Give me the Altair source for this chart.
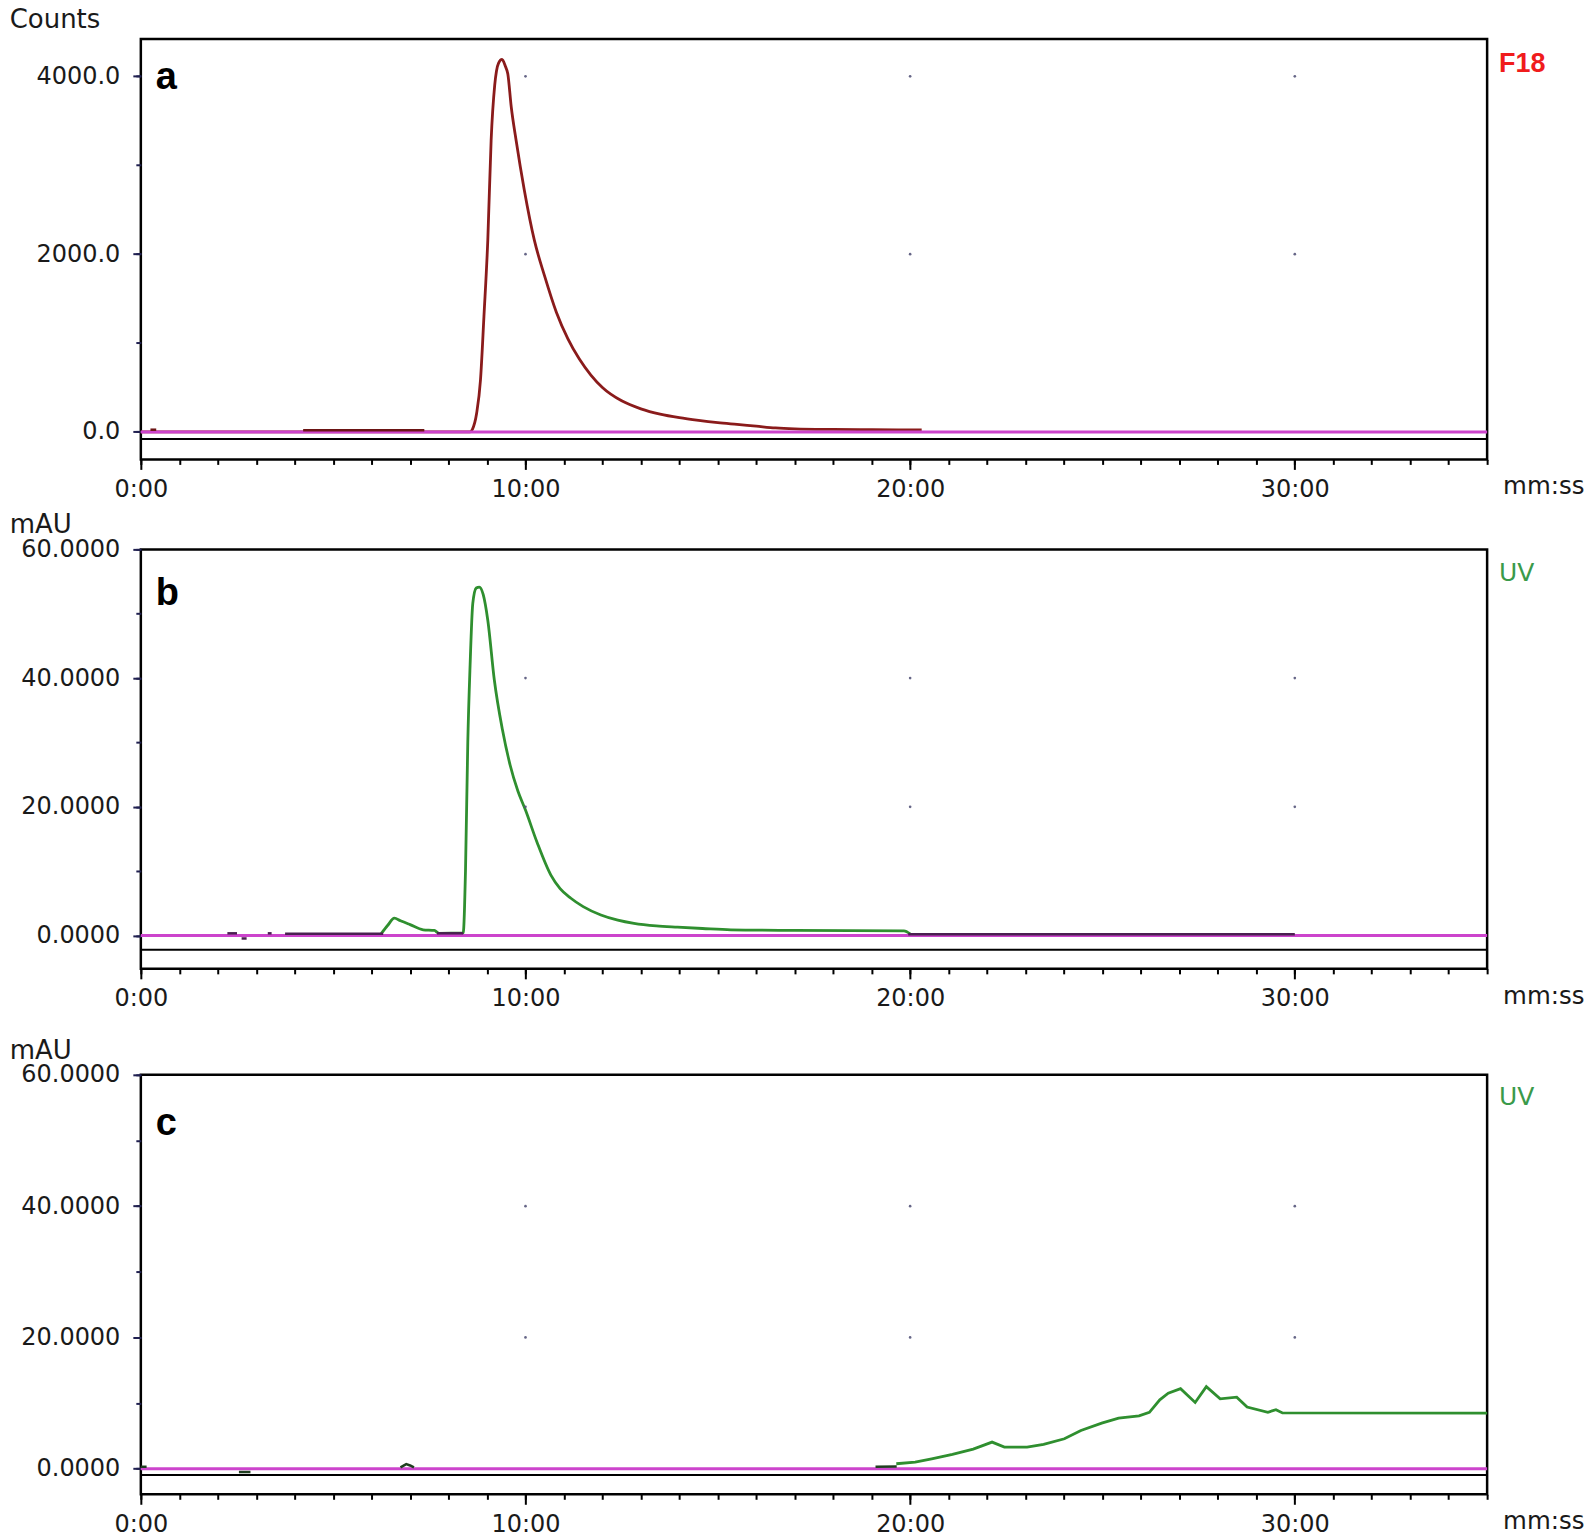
import altair as alt
import pandas as pd

# ---------------- shared axis data ----------------
X_DOMAIN = [0, 35]                      # minutes
X_MAJOR = [0, 10, 20, 30]               # labelled ticks
X_MINOR = list(range(0, 36))            # one small tick per minute
X_GRID = [10, 20, 30]                   # grid dot columns

# ---------------- panel a : F18 radio trace ----------------
A_T = [0.0, 8.55, 8.62, 8.73, 8.83, 8.92, 9.02, 9.107, 9.2, 9.3, 9.39, 9.48, 9.54, 9.63,
       9.756, 9.97, 10.23, 10.5, 10.8, 11.1, 11.4, 11.7, 12.0, 12.5, 13.0, 13.5, 14.0,
       14.5, 15.0, 15.5, 16.0, 16.5, 17.0, 18.0, 19.0, 20.3]
A_V = [0, 0, 30, 210, 584, 1300, 2157, 3281, 3900, 4150, 4190, 4110, 4030, 3655,
       3281, 2719, 2157, 1750, 1350, 1050, 820, 640, 500, 350, 260, 200, 160,
       130, 105, 85, 65, 45, 35, 28, 25, 22]
A_SEG_ID = [1, 1, 2, 2]
A_SEG_T = [0.25, 0.4, 4.22, 7.37]
A_SEG_V = [25, 25, 20, 20]
A_YDOMAIN = [-309, 4421]
A_YMAJOR = [0, 2000, 4000]
A_YMINOR = [0, 1000, 2000, 3000, 4000]
A_GRID_Y = [2000, 4000]
A_BLACK = -79

# ---------------- panel b : UV trace of product ----------------
B_T = [6.25, 6.42, 6.59, 6.75, 7.0, 7.34, 7.63, 7.75, 8.38, 8.44, 8.50, 8.56, 8.63, 8.72,
       8.80, 8.90, 9.02, 9.19, 9.4, 9.6, 9.8, 10.0, 10.3, 10.66, 10.9, 11.18, 11.5, 11.96,
       12.4, 12.82, 13.4, 13.95, 14.6, 15.34, 17.0, 19.84, 20.0]
B_V = [0.3, 1.6, 2.7, 2.3, 1.7, 0.9, 0.8, 0.35, 0.4, 10, 30, 42, 51.6, 54.0,
       54.15, 53.0, 49.0, 39.7, 32, 26.5, 22.5, 19.5, 14.5, 9.4, 7.3, 5.8, 4.5, 3.2,
       2.4, 1.9, 1.5, 1.3, 1.1, 0.9, 0.8, 0.73, 0.25]
B_SEG_ID = [1, 1, 2, 2, 3, 3, 4, 4, 5, 5, 6, 6]
B_SEG_T = [2.25, 2.5, 2.62, 2.75, 3.3, 3.4, 3.75, 6.3, 7.7, 8.38, 19.95, 30.0]
B_SEG_V = [0.35, 0.35, -0.45, -0.45, 0.35, 0.35, 0.3, 0.3, 0.35, 0.35, 0.2, 0.2]
B_YDOMAIN = [-5.17, 60]
B_YMAJOR = [0, 20, 40, 60]
B_YMINOR = [0, 10, 20, 30, 40, 50, 60]
B_GRID_Y = [20, 40]
B_BLACK = -2.2

# ---------------- panel c : UV trace of blank ----------------
C_T = [19.64, 20.13, 20.56, 21.1, 21.64, 22.13, 22.45, 23.04, 23.47, 24.01, 24.44, 24.98,
       25.42, 25.95, 26.22, 26.49, 26.71, 27.03, 27.41, 27.70, 28.06, 28.49, 28.76, 29.3,
       29.51, 29.68, 35.0]
C_V = [0.76, 1.0, 1.5, 2.2, 3.0, 4.06, 3.3, 3.3, 3.7, 4.56, 5.83, 6.95,
       7.7, 8.06, 8.6, 10.5, 11.5, 12.2, 10.1, 12.5, 10.65, 10.9, 9.4, 8.6,
       9.0, 8.5, 8.47]
C_SEG_ID = [1, 1, 2, 2, 3, 3, 3, 3, 4, 4]
C_SEG_T = [0.0, 0.15, 2.55, 2.85, 6.75, 6.9, 7.0, 7.1, 19.1, 19.65]
C_SEG_V = [0.3, 0.3, -0.5, -0.5, 0.2, 0.7, 0.5, 0.2, 0.3, 0.35]
C_YDOMAIN = [-3.89, 60]
C_YMAJOR = [0, 20, 40, 60]
C_YMINOR = [0, 10, 20, 30, 40, 50, 60]
C_GRID_Y = [20, 40]
C_BLACK = -0.96

PLOT_W = 1348
TICK_FONT = "DejaVu Sans"


def xenc(axis=None):
    return alt.X("t:Q", scale=alt.Scale(domain=X_DOMAIN, nice=False, zero=False), axis=axis)


def yenc(ydomain, axis=None):
    return alt.Y("v:Q", scale=alt.Scale(domain=ydomain, nice=False, zero=False), axis=axis)


def text_layer(txt, x, y, font, size, color, weight="normal", baseline="alphabetic"):
    return alt.Chart(pd.DataFrame({"txt": [txt]})).mark_text(
        align="left", baseline=baseline, font=font, fontSize=size,
        fontWeight=weight, color=color
    ).encode(x=alt.value(x), y=alt.value(y), text="txt:N")


def panel(t, v, seg_id, seg_t, seg_v, ydomain, ymajor, yminor, fmt, grid_y, black_y,
          trace_color, seg_color, interp, letter, letter_y, tag, tag_y, tag_font, tag_size,
          tag_weight, tag_color, unit, unit_y, height, spacer_y=None):
    x_major = alt.Axis(
        values=X_MAJOR, orient="bottom", tickSize=10, tickColor="black", tickWidth=2,
        labelExpr="datum.value + ':00'",
        labelFont=TICK_FONT, labelFontSize=24, labelColor="#1a1a1a", labelPadding=8,
        labelOverlap=False, labelFlush=False, labelBound=False,
        domain=False, grid=False, title=None,
    )
    x_minor = alt.Axis(
        values=X_MINOR, orient="bottom", tickSize=5, tickColor="black", tickWidth=2,
        labels=False, domain=False, grid=False, title=None,
    )
    y_major = alt.Axis(
        values=ymajor, orient="left", tickSize=8, tickColor="#202050", tickWidth=2,
        format=fmt,
        labelFont=TICK_FONT, labelFontSize=24, labelColor="#1a1a1a", labelPadding=13,
        labelOverlap=False, labelFlush=False, labelBound=False,
        domain=False, grid=False, title=None,
    )
    y_minor = alt.Axis(
        values=yminor, orient="left", tickSize=5, tickColor="#202050", tickWidth=2,
        labels=False, domain=False, grid=False, title=None,
    )
    trace_df = pd.DataFrame({"t": t, "v": v})
    seg_df = pd.DataFrame({"t": seg_t, "v": seg_v, "s": seg_id})
    grid_df = pd.DataFrame([{"t": gx, "v": gy} for gx in X_GRID for gy in grid_y])

    trace = alt.Chart(trace_df).mark_line(
        color=trace_color, strokeWidth=2.8, interpolate=interp
    ).encode(x=xenc(x_major), y=yenc(ydomain, y_major), order="t:Q")
    dots = alt.Chart(grid_df).mark_point(
        filled=True, size=7, color="#55557a", opacity=0.9
    ).encode(x=xenc(x_minor), y=yenc(ydomain, y_minor))
    segs = alt.Chart(seg_df).mark_line(color=seg_color, strokeWidth=2.5).encode(
        x=xenc(), y=yenc(ydomain), detail="s:N", order="t:Q")
    magenta = alt.Chart(pd.DataFrame({"v": [0]})).mark_rule(
        color="#cc44cc", strokeWidth=3).encode(y=yenc(ydomain))
    black = alt.Chart(pd.DataFrame({"v": [black_y]})).mark_rule(
        color="black", strokeWidth=2).encode(y=yenc(ydomain))

    layers = [trace, dots, black, magenta, segs,
              text_layer(letter, 15, letter_y, "Liberation Sans", 38, "black", "bold"),
              text_layer(tag, PLOT_W + 12, tag_y, tag_font, tag_size, tag_color, tag_weight),
              text_layer(unit, -131.3, unit_y, TICK_FONT, 26, "#1a1a1a"),
              text_layer("mm:ss", PLOT_W + 16, height + 28, TICK_FONT, 24.5, "#1a1a1a",
                         baseline="middle")]
    if spacer_y is not None:
        layers.append(alt.Chart(pd.DataFrame({"k": [0]})).mark_point(
            size=1, opacity=0, strokeWidth=0).encode(x=alt.value(0), y=alt.value(spacer_y)))
    return alt.layer(*layers).resolve_axis(x="independent", y="independent").properties(
        width=PLOT_W, height=height)


pa = panel(A_T, A_V, A_SEG_ID, A_SEG_T, A_SEG_V, A_YDOMAIN, A_YMAJOR, A_YMINOR, ".1f",
           A_GRID_Y, A_BLACK, "#8a1b1b", "#6b1414", "monotone", "a", 49.9, "F18", 33.2,
           "Liberation Sans", 27, "bold", "#f01c1c", "Counts", -10.5, 421)
pb = panel(B_T, B_V, B_SEG_ID, B_SEG_T, B_SEG_V, B_YDOMAIN, B_YMAJOR, B_YMINOR, ".4f",
           B_GRID_Y, B_BLACK, "#2f8f2f", "#4a2050", "monotone", "b", 55.9, "UV", 31.5,
           TICK_FONT, 25, "normal", "#3a9a4a", "mAU", -16.0, 420)
pc = panel(C_T, C_V, C_SEG_ID, C_SEG_T, C_SEG_V, C_YDOMAIN, C_YMAJOR, C_YMINOR, ".4f",
           C_GRID_Y, C_BLACK, "#2f8f2f", "#1f3f1f", "linear", "c", 60.2, "UV", 30.0,
           TICK_FONT, 25, "normal", "#3a9a4a", "mAU", -16.0, 420, spacer_y=-52.8)

chart = alt.vconcat(pa, pb, pc, spacing=7.1).properties(
    padding={"left": 0, "top": -3.0, "right": 0, "bottom": 0}
).configure_view(stroke="black", strokeWidth=2.5)

chart.save("out.html", embed_options={"renderer": "svg", "actions": False})
